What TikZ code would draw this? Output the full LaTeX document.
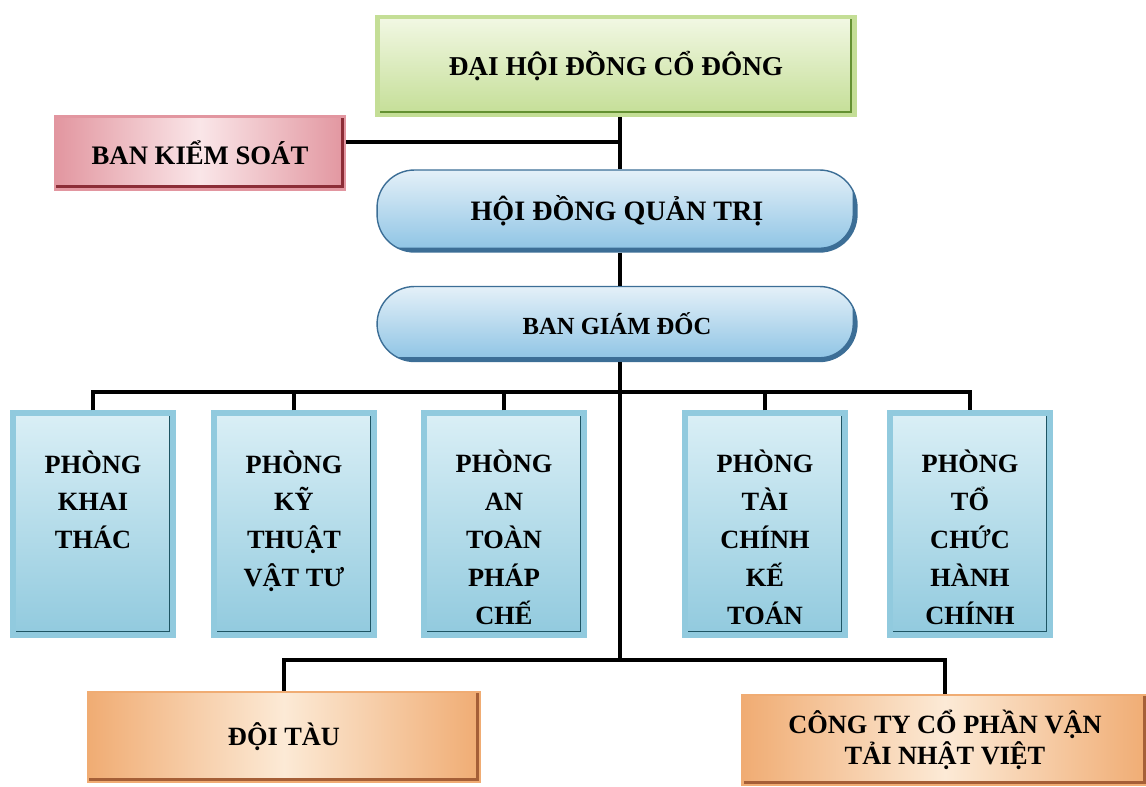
\documentclass[tikz,border=0pt]{standalone}
\usepackage{fontspec}
\setmainfont{Liberation Serif}
\usepackage{tikz}
\usetikzlibrary{calc,positioning}
\definecolor{greenMid}{RGB}{196,222,150}
\definecolor{greenLight}{RGB}{242,248,228}
\definecolor{greenEdge}{RGB}{100,145,50}
\definecolor{pinkMid}{RGB}{226,150,160}
\definecolor{pinkLight}{RGB}{250,230,232}
\definecolor{pinkEdge}{RGB}{140,45,55}
\definecolor{roundMid}{RGB}{140,195,228}
\definecolor{roundLight}{RGB}{228,240,248}
\definecolor{roundEdge}{RGB}{60,110,150}
\definecolor{deptMid}{RGB}{145,202,222}
\definecolor{deptLight}{RGB}{218,239,246}
\definecolor{deptEdge}{RGB}{30,85,100}
\definecolor{orangeMid}{RGB}{240,172,115}
\definecolor{orangeLight}{RGB}{252,234,214}
\definecolor{orangeEdge}{RGB}{165,95,55}
\newcommand{\toppad}{\rule{0pt}{28pt}}
\tikzset{
        link/.style = { line width=2.6pt, black },
       bevel/.style = { path picture={
                          \draw[line width=5pt,#1] (path picture bounding box.north east)
                            -- (path picture bounding box.south east)
                            -- (path picture bounding box.south west);} },
        unit/.style = { font=\bfseries\fontsize{15.5}{18}\selectfont, align=center, inner sep=0pt },
     general/.style = { unit, minimum width=9.54cm, minimum height=1.96cm, draw=greenMid,
                        line width=2.5pt, top color=greenLight, bottom color=greenMid, bevel=greenEdge },
     control/.style = { unit, font=\bfseries\fontsize{15.2}{18}\selectfont, minimum width=5.8cm,
                        minimum height=1.46cm, draw=pinkMid, line width=1.5pt, left color=pinkMid,
                        right color=pinkMid, middle color=pinkLight, bevel=pinkEdge },
       board/.style = { unit, minimum width=9.6cm, draw=roundEdge, line width=0.8pt,
                        rounded corners=0.75cm, top color=roundLight, bottom color=roundMid,
                        bevel=roundEdge },
        dept/.style = { unit, font=\bfseries\fontsize{15}{21.5}\selectfont, minimum width=3.2cm,
                        minimum height=4.44cm, draw=deptMid, line width=3pt,
                        top color=deptLight, bottom color=deptMid, bevel=deptEdge },
      branch/.style = { unit, font=\bfseries\fontsize{15}{18}\selectfont, minimum height=1.8cm,
                        draw=orangeMid, line width=1.2pt, left color=orangeMid,
                        right color=orangeMid, middle color=orangeLight, bevel=orangeEdge }
}
\begin{document}
\begin{tikzpicture}[x=0.02cm, y=-0.02cm]
  \useasboundingbox (0,0) rectangle (1146,787);

  % upper levels
  \node[general] (dhcd) at (616,66)  {ĐẠI HỘI ĐỒNG CỔ ĐÔNG};
  \node[control] (bks)  at (200,153) {BAN KIỂM SOÁT};
  \node[board, minimum height=1.64cm, font=\bfseries\fontsize{16}{19}\selectfont]
       (hdqt) at (617,211) {HỘI ĐỒNG QUẢN TRỊ};
  \node[board, minimum height=1.5cm, font=\bfseries\fontsize{14}{17}\selectfont]
       (bgd) at (617,324) {BAN GIÁM ĐỐC};

  % departments
  \node[dept] (khaithac) at (93,524)  {\toppad PHÒNG\\KHAI\\THÁC\\~\\~};
  \node[dept] (kythuat)  at (294,524) {\toppad PHÒNG\\KỸ\\THUẬT\\VẬT TƯ\\~};
  \node[dept] (antoan)   at (504,524) {\toppad PHÒNG\\AN\\TOÀN\\PHÁP\\CHẾ};
  \node[dept] (taichinh) at (765,524) {\toppad PHÒNG\\TÀI\\CHÍNH\\KẾ\\TOÁN};
  \node[dept] (tochuc)   at (970,524) {\toppad PHÒNG\\TỔ\\CHỨC\\HÀNH\\CHÍNH};

  % branches
  \node[branch, minimum width=7.84cm] (doitau) at (284,737) {ĐỘI TÀU};
  \node[branch, minimum width=8.1cm] (congty) at (945,740) {CÔNG TY CỔ PHẦN VẬN\\TẢI NHẬT VIỆT};

  % connectors
  \coordinate (tbar) at (620,392);
  \coordinate (bbar) at (620,660);
  \draw[link] (dhcd.south -| tbar) -- (hdqt.north -| tbar);
  \draw[link] ([yshift=0.22cm]bks.east) -- ([yshift=0.22cm]bks.east -| tbar);
  \draw[link] (hdqt.south -| tbar) -- (bgd.north -| tbar);
  \draw[link] (bgd.south -| tbar) -- (bbar);
  \draw[link] (khaithac.north) |- (tbar) -| (tochuc.north);
  \draw[link] (kythuat.north) -- (kythuat.north |- tbar);
  \draw[link] (antoan.north) -- (antoan.north |- tbar);
  \draw[link] (taichinh.north) -- (taichinh.north |- tbar);
  \draw[link] (doitau.north) |- (bbar) -| (congty.north);
\end{tikzpicture}
\end{document}
